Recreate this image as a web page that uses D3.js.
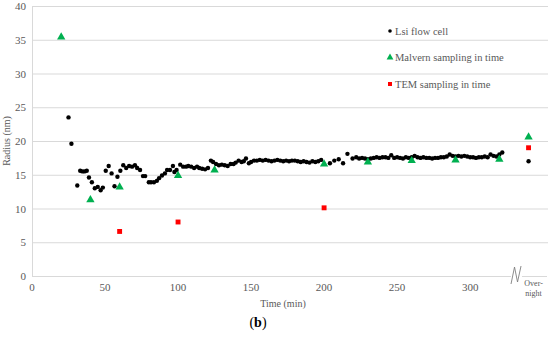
<!DOCTYPE html>
<html>
<head>
<meta charset="utf-8">
<script src="https://cdn.jsdelivr.net/npm/d3@7"></script>
<style>
  body { margin: 0; background: #fff; }
</style>
</head>
<body>
<div id="chart"></div>
<script>
// time position used for the "Over-night" samples
const overnightTime = 340;

const lsiTime = [25, 27, 31, 33, 34.5, 36, 37.5, 39, 41, 43, 45, 47, 48.5, 50.5, 52.5, 54.5, 56.5, 58.5,
  60.5, 62.5, 64.5, 66.5, 68.5, 70.5, 72, 74, 76, 77.5, 80, 81.5, 83.5, 85.5, 87, 89, 91, 92.5, 94.5,
  96.5, 97.5, 99, 101.5, 103.5, 105.5, 107, 109, 111, 113, 114.5, 116.5, 118.5, 120.5, 122.5, 124, 126,
  128, 130, 132, 134, 136, 138, 139.5, 141.5, 143.5, 145, 146.5, 148.5, 150, 152, 154, 156, 158, 160,
  162, 164, 166, 168, 170, 172, 174, 176, 178, 180, 182, 184, 186, 188, 190, 192, 194, 196, 198, 204,
  207, 210, 213, 216, 219.5, 222, 224, 226, 228, 230, 232, 234, 236, 238, 240, 242, 244, 246, 248, 250,
  252, 254, 256, 258, 260, 262, 264, 266, 268, 270, 272, 274, 276, 278, 280, 282, 284, 286, 288, 290,
  292, 294, 296, 298, 300, 302, 304, 306, 308, 310, 312, 314, 316, 318, 320, 322, overnightTime];
const lsiRadius = [23.5, 19.6, 13.4, 15.6, 15.5, 15.5, 15.6, 14.6, 13.9, 13.0, 13.2, 12.7, 13.1, 15.6, 16.3, 15.2, 13.3, 14.7,
  15.6, 16.4, 16.0, 16.3, 16.2, 16.4, 16.0, 15.7, 14.8, 14.8, 13.9, 13.9, 13.9, 14.1, 14.5, 14.9, 15.2, 15.7, 15.7,
  16.3, 15.4, 15.7, 16.5, 16.2, 16.2, 16.3, 16.2, 16.0, 16.2, 16.0, 15.9, 15.8, 16.0, 17.1, 16.9, 16.6,
  16.4, 16.5, 16.4, 16.3, 16.6, 16.6, 16.8, 17.1, 16.9, 17.0, 17.4, 16.7, 16.9, 17.1, 17.1, 17.2, 17.1, 17.2,
  17.1, 17.0, 17.1, 17.2, 17.1, 17.0, 17.1, 17.0, 17.1, 17.1, 17.0, 16.9, 17.0, 16.9, 16.8, 17.0, 16.9, 17.0, 17.2, 16.7,
  17.1, 17.3, 16.7, 18.1, 17.4, 17.6, 17.4, 17.5, 17.4, 17.3, 17.4, 17.5, 17.6, 17.5, 17.6, 17.6, 17.5, 17.9, 17.5, 17.6,
  17.5, 17.4, 17.6, 17.5, 17.6, 17.8, 17.6, 17.5, 17.6, 17.5, 17.5, 17.4, 17.5, 17.5, 17.6, 17.6, 17.7, 18.0, 17.8, 17.7,
  17.8, 17.7, 17.8, 17.7, 17.6, 17.6, 17.5, 17.6, 17.6, 17.7, 17.6, 18.0, 17.8, 17.7, 18.0, 18.3, 17.0];

const malvernTime = [20, 40, 60, 100, 125, 200, 230, 260, 290, 320, overnightTime];
const malvernRadius = [35.5, 11.4, 13.3, 15.0, 15.8, 16.7, 17.0, 17.2, 17.3, 17.4, 20.7];

const temTime = [60, 100, 200, overnightTime];
const temRadius = [6.6, 8.0, 10.1, 19.0];

const xTicks = [0, 50, 100, 150, 200, 250, 300];
const yTicks = [0, 5, 10, 15, 20, 25, 30, 35, 40];
const legendLabels = ['Lsi flow cell', 'Malvern sampling in time', 'TEM sampling in time'];

const width = 550, height = 338;
const gridColor = '#d9d9d9', labelColor = '#595959';
const green = '#00b050', red = '#ff0000';
const serif = "'Liberation Serif', 'Times New Roman', 'DejaVu Serif', serif";

const x = d3.scaleLinear().domain([0, 354]).range([32, 549]);
const y = d3.scaleLinear().domain([0, 40]).range([276, 6]);

const svg = d3.select('#chart').append('svg')
  .attr('width', width)
  .attr('height', height)
  .attr('font-family', serif)
  .style('font-family', serif);

// horizontal gridlines
svg.append('g')
  .selectAll('line')
  .data(yTicks.filter(d => d > 0))
  .join('line')
  .attr('x1', x(0))
  .attr('x2', 548)
  .attr('y1', d => y(d) + 0.5)
  .attr('y2', d => y(d) + 0.5)
  .attr('stroke', gridColor)
  .attr('stroke-width', 1);

// left axis line
svg.append('line')
  .attr('x1', x(0) + 0.5).attr('x2', x(0) + 0.5)
  .attr('y1', y(40)).attr('y2', y(0))
  .attr('stroke', gridColor);

// bottom axis line, broken before the overnight sample
const breakLeft = x(328), breakRight = x(335.5);
svg.append('line')
  .attr('x1', x(0)).attr('x2', breakLeft)
  .attr('y1', y(0) + 0.5).attr('y2', y(0) + 0.5)
  .attr('stroke', gridColor);
svg.append('line')
  .attr('x1', breakRight).attr('x2', 547)
  .attr('y1', y(0) + 0.5).attr('y2', y(0) + 0.5)
  .attr('stroke', gridColor);

// break mark
svg.append('path')
  .attr('d', `M${breakLeft},${y(0) + 8} L${breakLeft + 3.5},${y(0) - 9} L${breakLeft + 6.5},${y(0) + 6} L${breakLeft + 10},${y(0) - 10}`)
  .attr('fill', 'none')
  .attr('stroke', '#7f7f7f')
  .attr('stroke-width', 0.9);

// y tick labels
svg.append('g')
  .selectAll('text')
  .data(yTicks)
  .join('text')
  .attr('x', 26)
  .attr('y', d => y(d) + 4)
  .attr('text-anchor', 'end')
  .attr('font-size', 11)
  .attr('fill', labelColor)
  .text(d => d);

// x tick labels
svg.append('g')
  .selectAll('text')
  .data(xTicks)
  .join('text')
  .attr('x', d => x(d))
  .attr('y', 291)
  .attr('text-anchor', 'middle')
  .attr('font-size', 11)
  .attr('fill', labelColor)
  .text(d => d);

// overnight label
svg.append('text')
  .attr('y', 286)
  .attr('text-anchor', 'middle')
  .attr('font-size', 8)
  .attr('fill', labelColor)
  .selectAll('tspan')
  .data(['Over-', 'night'])
  .join('tspan')
  .attr('x', x(overnightTime) + 5)
  .attr('dy', (d, i) => i === 0 ? 0 : 9.5)
  .text(d => d);

// axis titles
svg.append('text')
  .attr('x', 283)
  .attr('y', 307)
  .attr('text-anchor', 'middle')
  .attr('font-size', 10)
  .attr('fill', labelColor)
  .text('Time (min)');

svg.append('text')
  .attr('transform', 'translate(10,141) rotate(-90)')
  .attr('text-anchor', 'middle')
  .attr('font-size', 10)
  .attr('fill', labelColor)
  .text('Radius (nm)');

svg.append('text')
  .attr('x', 258)
  .attr('y', 327)
  .attr('text-anchor', 'middle')
  .attr('font-size', 14)
  .attr('fill', '#000')
  .html('(<tspan font-weight="bold">b</tspan>)');

// series
svg.append('g')
  .selectAll('circle')
  .data(d3.zip(lsiTime, lsiRadius))
  .join('circle')
  .attr('cx', d => x(d[0]))
  .attr('cy', d => y(d[1]))
  .attr('r', 2.2)
  .attr('fill', '#000');

const tri = d3.symbol().type(d3.symbolTriangle).size(30);
const sq = d3.symbol().type(d3.symbolSquare).size(24);

svg.append('g')
  .selectAll('path')
  .data(d3.zip(temTime, temRadius))
  .join('path')
  .attr('d', sq)
  .attr('transform', d => `translate(${x(d[0])},${y(d[1])})`)
  .attr('fill', red);

svg.append('g')
  .selectAll('path')
  .data(d3.zip(malvernTime, malvernRadius))
  .join('path')
  .attr('d', tri)
  .attr('transform', d => `translate(${x(d[0])},${y(d[1]) + 0.8})`)
  .attr('fill', green);

// legend
const legend = svg.append('g').attr('transform', 'translate(390,0)');
const legendY = [31, 57, 84];

legend.append('circle').attr('cx', 0).attr('cy', legendY[0]).attr('r', 1.8).attr('fill', '#000');
legend.append('path').attr('d', d3.symbol().type(d3.symbolTriangle).size(20))
  .attr('transform', `translate(0,${legendY[1] + 0.5})`).attr('fill', green);
legend.append('path').attr('d', d3.symbol().type(d3.symbolSquare).size(16))
  .attr('transform', `translate(0,${legendY[2]})`).attr('fill', red);

legend.selectAll('text')
  .data(legendLabels)
  .join('text')
  .attr('x', 5)
  .attr('y', (d, i) => legendY[i] + 3.5)
  .attr('font-size', 10.5)
  .attr('fill', labelColor)
  .text(d => d);
</script>
</body>
</html>
